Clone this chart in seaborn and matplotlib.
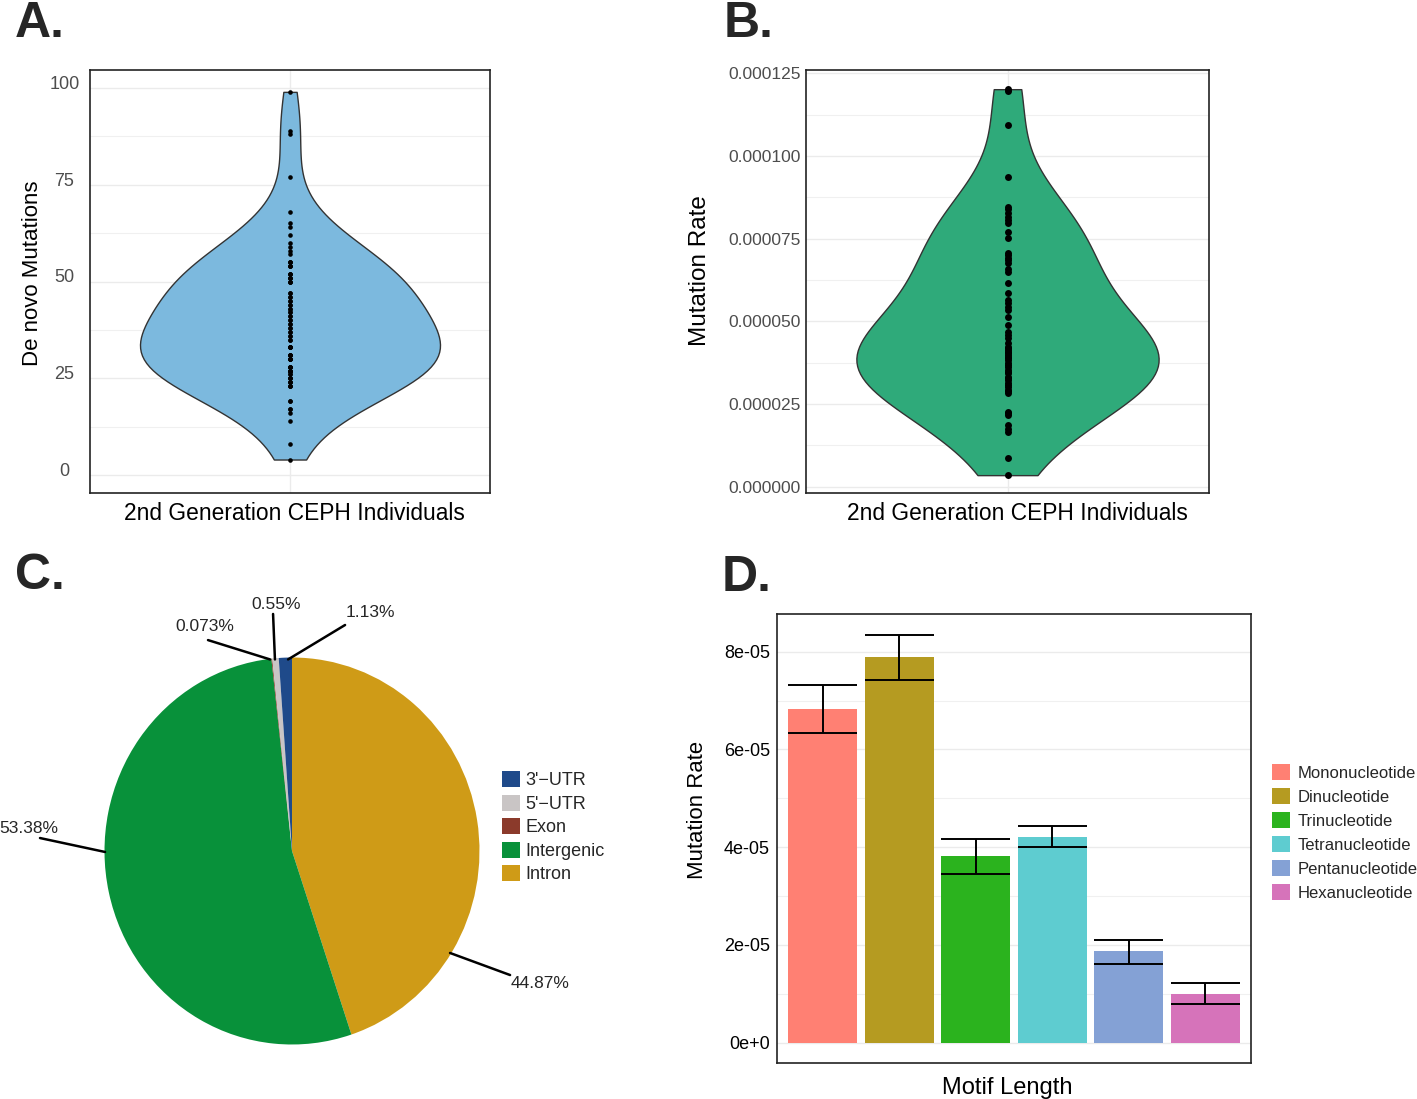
import numpy as np
import pandas as pd
import matplotlib
matplotlib.use("Agg")
import matplotlib.pyplot as plt
import matplotlib.transforms as mtransforms
from matplotlib.patches import Patch
import seaborn as sns

# A. de novo mutations per 2nd generation CEPH individual (overlapping dots repeated)
dnm_counts = [99, 89, 88, 77, 68, 65, 64, 62, 60, 59, 58, 57,
              55, 55, 55, 54, 54, 54, 52, 52, 52, 51, 51, 51, 50, 50, 50,
              47, 47, 46, 46, 45, 45, 44, 44, 43, 43, 42, 42, 41, 41, 40, 40,
              39, 39, 38, 38, 37, 37, 36, 36, 35, 35, 33, 33, 33, 33, 33,
              31, 31, 31, 31, 30, 30, 30, 30, 28, 28, 28, 28, 27, 27, 27, 27,
              26, 26, 25, 25, 25, 24, 24, 24, 23, 23, 23,
              19, 19, 17, 17, 16, 14, 8, 4]
dnm_ticks = [0, 25, 50, 75, 100]

# B. mutation rate per individual (overlapping dots repeated)
mut_rate = [12.02e-5, 11.95e-5, 10.94e-5, 9.35e-5, 8.47e-5, 8.39e-5, 8.29e-5, 8.17e-5,
            8.06e-5, 7.98e-5, 7.71e-5, 7.51e-5, 7.08e-5, 7.01e-5, 6.91e-5, 6.85e-5,
            6.77e-5, 6.57e-5, 6.50e-5, 6.15e-5, 5.87e-5, 5.65e-5, 5.54e-5, 5.44e-5,
            5.34e-5, 5.14e-5, 4.89e-5, 4.69e-5, 4.59e-5, 4.49e-5, 4.35e-5, 4.23e-5,
            4.18e-5, 4.13e-5, 4.08e-5, 4.03e-5, 3.98e-5, 3.93e-5, 3.88e-5, 3.83e-5,
            3.73e-5, 3.68e-5, 3.63e-5, 3.53e-5, 3.48e-5, 3.43e-5, 3.33e-5, 3.28e-5,
            3.23e-5, 3.13e-5, 3.08e-5, 3.03e-5, 2.93e-5, 2.88e-5, 2.82e-5, 2.27e-5,
            2.22e-5, 2.17e-5, 1.86e-5, 1.76e-5, 1.66e-5, 0.86e-5, 0.35e-5]
rate_ticks = [0, 2.5e-5, 5e-5, 7.5e-5, 10e-5, 12.5e-5]
rate_tick_labels = ["0.000000", "0.000025", "0.000050", "0.000075", "0.000100", "0.000125"]

# C. genomic region of the mutations
regions = ["3'\u2212UTR", "5'\u2212UTR", "Exon", "Intergenic", "Intron"]
region_pct = [1.13, 0.55, 0.073, 53.38, 44.87]
region_text = ["1.13%", "0.55%", "0.073%", "53.38%", "44.87%"]
region_colors = ["#1F4A8A", "#C9C5C5", "#8B3A2B", "#08913A", "#CF9B17"]

# D. mutation rate by motif length
motifs = ["Mononucleotide", "Dinucleotide", "Trinucleotide",
          "Tetranucleotide", "Pentanucleotide", "Hexanucleotide"]
motif_rate = [6.82e-5, 7.88e-5, 3.81e-5, 4.21e-5, 1.87e-5, 1.00e-5]
motif_lo = [6.34e-5, 7.42e-5, 3.44e-5, 4.00e-5, 1.61e-5, 0.78e-5]
motif_hi = [7.32e-5, 8.34e-5, 4.17e-5, 4.44e-5, 2.09e-5, 1.22e-5]
motif_colors = ["#FF8073", "#B59B21", "#2BB31E", "#5ECCD0", "#84A1D5", "#D673BA"]
motif_ticks = [0, 2e-5, 4e-5, 6e-5, 8e-5]
motif_tick_labels = ["0e+0", "2e-05", "4e-05", "6e-05", "8e-05"]

sns.set_theme(style="white")
plt.rcParams["font.family"] = ["Liberation Sans", "DejaVu Sans"]

W, H = 1417, 1099
fig = plt.figure(figsize=(W / 100, H / 100), dpi=100)
fig.patch.set_facecolor("white")


def px_axes(x0, y0, x1, y1):
    return fig.add_axes([x0 / W, 1 - y1 / H, (x1 - x0) / W, (y1 - y0) / H])


def box_style(ax):
    ax.set_facecolor("white")
    for sp in ax.spines.values():
        sp.set_visible(True)
        sp.set_color("#222222")
        sp.set_linewidth(1.2)
    ax.tick_params(length=0)
    ax.set_axisbelow(True)


def grid_y(ax, minor):
    ax.set_yticks(minor, minor=True)
    ax.grid(True, which="major", axis="y", color="#EBEBEB", lw=1.0)
    ax.grid(True, which="minor", axis="y", color="#F0F0F0", lw=0.8)


# ---- A ----
axA = px_axes(90, 70, 490, 493)
sns.violinplot(y=dnm_counts, ax=axA, color="#7CB9DE", saturation=1, cut=0, inner=None,
               width=0.9, linewidth=1.0, linecolor="#333333", density_norm="width",
               bw_adjust=1.25)
sns.stripplot(y=dnm_counts, ax=axA, jitter=False, color="black", size=3.3, linewidth=0)
box_style(axA)
axA.set_xlim(-0.6, 0.6)
axA.set_ylim(-4.65, 104.65)
axA.set_xticks([0])
axA.set_xticklabels([])
axA.grid(True, which="major", axis="x", color="#EBEBEB", lw=1.0)
axA.set_yticks(dnm_ticks)
axA.set_yticklabels([str(t) for t in dnm_ticks], fontsize=13, color="#4D4D4D", ha="center")
axA.tick_params(axis="y", pad=18.5)
shift_up = mtransforms.ScaledTranslation(0, 5.5 / 100, fig.dpi_scale_trans)
for lab in axA.get_yticklabels():
    lab.set_transform(lab.get_transform() + shift_up)
grid_y(axA, [12.5, 37.5, 62.5, 87.5])
axA.set_ylabel("De novo Mutations", fontsize=16, color="black")
axA.yaxis.set_label_coords(-0.1175, 0.52)
axA.set_xlabel("2nd Generation CEPH Individuals", fontsize=16.4, color="black")
axA.xaxis.set_label_coords(0.512, -0.022)

# ---- B ----
axB = px_axes(806, 70, 1209, 493)
sns.violinplot(y=mut_rate, ax=axB, color="#2FAA7A", saturation=1, cut=0, inner=None,
               width=0.9, linewidth=1.0, linecolor="#333333", density_norm="width",
               bw_adjust=1.2)
sns.stripplot(y=mut_rate, ax=axB, jitter=False, color="black", size=5, linewidth=0)
box_style(axB)
axB.set_xlim(-0.6, 0.6)
axB.set_ylim(-1.9e-6, 1.26e-4)
axB.set_xticks([0])
axB.set_xticklabels([])
axB.grid(True, which="major", axis="x", color="#EBEBEB", lw=1.0)
axB.set_yticks(rate_ticks)
axB.set_yticklabels(rate_tick_labels, fontsize=12.5, color="#4D4D4D")
axB.tick_params(axis="y", pad=3.6)
grid_y(axB, [1.25e-5, 3.75e-5, 6.25e-5, 8.75e-5, 11.25e-5])
axB.set_ylabel("Mutation Rate", fontsize=17.5, color="black")
axB.yaxis.set_label_coords(-0.236, 0.525)
axB.set_xlabel("2nd Generation CEPH Individuals", fontsize=16.4, color="black")
axB.xaxis.set_label_coords(0.525, -0.022)

# ---- C ----
axC = px_axes(92, 651, 492, 1051)
axC.pie(region_pct[::-1], colors=region_colors[::-1], startangle=90, counterclock=False,
        wedgeprops=dict(linewidth=0))
axC.set_aspect("auto")
axC.set_xlim(-200 / 187.5, 200 / 187.5)
axC.set_ylim(-200 / 193.5, 200 / 193.5)
axC.axis("off")

# leader line start, line end, text position, alignment (pie radius units)
pie_label_layout = [
    ((-0.021, 0.99), (0.283, 1.168), (0.285, 1.23), "left"),
    ((-0.091, 0.99), (-0.101, 1.225), (-0.085, 1.276), "center"),
    ((-0.117, 0.99), (-0.448, 1.09), (-0.464, 1.158), "center"),
    ((-0.997, -0.005), (-1.344, 0.067), (-1.403, 0.114), "center"),
    ((0.843, -0.527), (1.163, -0.641), (1.323, -0.687), "center"),
]
for txt, (p0, p1, pt, ha) in zip(region_text, pie_label_layout):
    axC.plot([p0[0], p1[0]], [p0[1], p1[1]], color="black", lw=1.8, clip_on=False)
    axC.text(pt[0], pt[1], txt, ha=ha, va="center", fontsize=12.5, clip_on=False)

fig.legend([Patch(facecolor=c, edgecolor="none") for c in region_colors], regions,
           loc="upper left", bbox_to_anchor=(502 / W, 1 - 771 / H), frameon=False,
           fontsize=13, handlelength=1.0, handleheight=1.0, handletextpad=0.3,
           labelspacing=0.29, borderpad=0, borderaxespad=0)

# ---- D ----
axD = px_axes(777, 614, 1251, 1063)
df = pd.DataFrame({"motif": motifs, "rate": motif_rate})
sns.barplot(data=df, x="motif", y="rate", hue="motif", palette=motif_colors, saturation=1,
            width=0.9, legend=False, errorbar=None, linewidth=0, ax=axD)
xpos = np.arange(len(motifs))
axD.vlines(xpos, motif_lo, motif_hi, color="black", lw=1.4, zorder=5)
axD.hlines(motif_lo, xpos - 0.45, xpos + 0.45, color="black", lw=1.4, zorder=5)
axD.hlines(motif_hi, xpos - 0.45, xpos + 0.45, color="black", lw=1.4, zorder=5)
box_style(axD)
axD.set_xlim(-0.6, len(motifs) - 0.4)
axD.set_ylim(-4.17e-6, 8.77e-5)
axD.set_xticks([])
axD.set_yticks(motif_ticks)
axD.set_yticklabels(motif_tick_labels, fontsize=13, color="black")
axD.tick_params(axis="y", pad=5)
grid_y(axD, [1e-5, 3e-5, 5e-5, 7e-5])
axD.set_ylabel("Mutation Rate", fontsize=15.9, color="black")
axD.yaxis.set_label_coords(-0.1456, 0.563)
axD.set_xlabel("Motif Length", fontsize=17, color="black")
axD.xaxis.set_label_coords(0.486, -0.032)

fig.legend([Patch(facecolor=c, edgecolor="none") for c in motif_colors], motifs,
           loc="upper left", bbox_to_anchor=(1272 / W, 1 - 764 / H), frameon=False,
           fontsize=12, handlelength=1.1, handleheight=1.1, handletextpad=0.42,
           labelspacing=0.44, borderpad=0, borderaxespad=0)

# panel letters
for letter, x, yb in [("A.", 15, 37), ("B.", 724, 37), ("C.", 15, 589), ("D.", 722, 591)]:
    fig.text(x / W, 1 - yb / H, letter, fontsize=36, fontweight="bold", ha="left", va="baseline")

fig.savefig("out.png", dpi=100, facecolor="white")
